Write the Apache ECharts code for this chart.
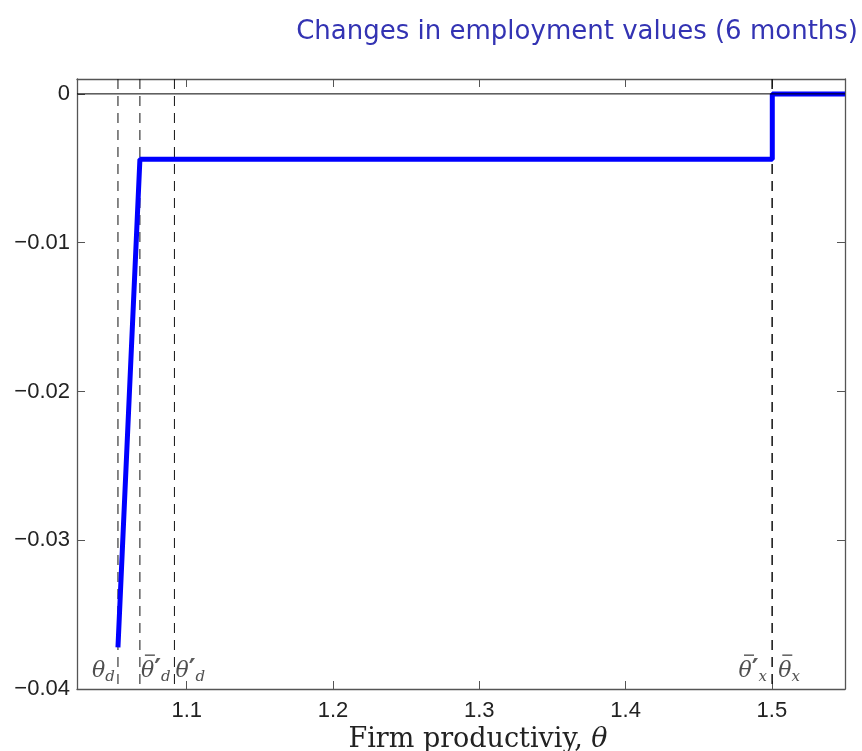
<!DOCTYPE html>
<html>
<head>
<meta charset="utf-8">
<script src="https://cdn.jsdelivr.net/npm/echarts@6/dist/echarts.min.js"></script>
<style>
  html, body { margin: 0; padding: 0; background: #fff; }
  #chart { width: 862px; height: 751px; }
</style>
</head>
<body>
<div id="chart"></div>
<script>
// employment value change against firm productivity
const curveX = [1.053, 1.068, 1.5003, 1.5003, 1.55];
const curveY = [-0.0372, -0.0044, -0.0044, 0, 0];

// thresholds (dashed verticals) and their labels
const cutX = [1.053, 1.068, 1.0916, 1.5001, 1.5003];
// first line carries the overbar (or nothing), second line the symbol
const cutLabels = [
  "{gap| }\n{t|θ}{s|d}",
  "{s1| }{bar| }\n{t|θ}{p|′}{s|d}",
  "{gap| }\n{t|θ}{p|′}{s|d}",
  "{bar| }{s2| }\n{t|θ}{p|′}{s|x}",
  "{s1| }{bar| }\n{t|θ}{s|x}"
];
const cutSide = ["left", "right", "right", "left", "right"];
const cutGap = [3, 1, 1, 5, 6];
const labelY = -0.0386;

const xTicks = [1.1, 1.2, 1.3, 1.4, 1.5];

const serif = "'DejaVu Serif', 'Liberation Serif', serif";
const sans = "'Liberation Sans', Arial, sans-serif";

const chart = echarts.init(document.getElementById("chart"));

const frameLine = { show: true, onZero: false, lineStyle: { color: "#555", width: 1.3 } };
const tickIn = { inside: true, length: 8, lineStyle: { color: "#555", width: 1 } };

const series = [
  {
    name: "change",
    type: "line",
    data: curveX.map((x, i) => [x, curveY[i]]),
    showSymbol: false,
    lineStyle: { color: "#0000ff", width: 5 },
    z: 3
  },
  {
    name: "zero",
    type: "line",
    data: [[1.025, 0], [1.55, 0]],
    showSymbol: false,
    lineStyle: { color: "#000", width: 1 },
    z: 4
  },
  {
    name: "labels",
    type: "scatter",
    symbolSize: 0,
    data: cutX.map((x, i) => ({
      value: [x, labelY],
      label: { position: cutSide[i], distance: cutGap[i], formatter: cutLabels[i] }
    })),
    label: {
      show: true,
      rich: {
        gap: { fontSize: 1, height: 2, lineHeight: 6 },
        bar: { fontSize: 1, width: 10, height: 1.5, lineHeight: 6, backgroundColor: "#333" },
        s1: { fontSize: 1, width: 4, height: 2, lineHeight: 6 },
        s2: { fontSize: 1, width: 13, height: 2, lineHeight: 6 },
        t: { fontFamily: serif, fontStyle: "italic", fontSize: 22, color: "#222", lineHeight: 26, verticalAlign: "middle" },
        p: { fontFamily: "'DejaVu Sans', sans-serif", fontWeight: "bold", fontSize: 26, color: "#333", verticalAlign: "top", lineHeight: 26 },
        s: { fontFamily: serif, fontStyle: "italic", fontSize: 15, color: "#222", verticalAlign: "bottom", lineHeight: 26, padding: [16, 0, 0, 0] }
      }
    },
    z: 5
  }
];

cutX.forEach((x, i) => {
  series.push({
    name: "cut" + i,
    type: "line",
    data: [[x, 0.001], [x, -0.04]],
    showSymbol: false,
    lineStyle: { color: "#111", width: 1, type: [10, 7] },
    z: 2
  });
});

const option = {
  animation: false,
  title: {
    text: "Changes in employment values (6 months)",
    right: 4,
    top: 19,
    padding: 0,
    textStyle: { color: "#3333b3", fontSize: 26, fontWeight: "normal", fontFamily: "'DejaVu Sans', sans-serif" }
  },
  grid: { left: 77, top: 79, right: 17, bottom: 62, outerBoundsMode: "none" },
  xAxis: [
    {
      type: "value",
      min: 1.025,
      max: 1.55,
      axisLine: frameLine,
      axisTick: Object.assign({ customValues: xTicks }, tickIn),
      splitLine: { show: false },
      axisLabel: {
        customValues: xTicks,
        margin: 11,
        fontSize: 22,
        fontFamily: sans,
        color: "#222",
        formatter: (v) => v.toFixed(1)
      },
      name: "Firm productiviy, {i|θ}",
      nameLocation: "middle",
      nameGap: 33,
      nameTextStyle: {
        fontFamily: serif,
        fontSize: 27,
        color: "#222",
        padding: [0, 0, 0, 34],
        rich: { i: { fontFamily: serif, fontStyle: "italic", fontSize: 27, color: "#222" } }
      }
    },
    {
      type: "value",
      position: "top",
      min: 1.025,
      max: 1.55,
      axisLine: frameLine,
      axisTick: Object.assign({ customValues: xTicks }, tickIn),
      axisLabel: { show: false },
      splitLine: { show: false }
    }
  ],
  yAxis: [
    {
      type: "value",
      min: -0.04,
      max: 0.001,
      interval: 0.01,
      axisLine: frameLine,
      axisTick: tickIn,
      splitLine: { show: false },
      axisLabel: {
        showMaxLabel: false,
        margin: 7,
        fontSize: 22,
        fontFamily: sans,
        color: "#222",
        formatter: (v) => (Math.abs(v) < 1e-9 ? "0" : "\u2212" + Math.abs(v).toFixed(2))
      }
    },
    {
      type: "value",
      position: "right",
      min: -0.04,
      max: 0.001,
      interval: 0.01,
      axisLine: frameLine,
      axisTick: tickIn,
      axisLabel: { show: false },
      splitLine: { show: false }
    }
  ],
  series: series
};

chart.setOption(option);
</script>
</body>
</html>
